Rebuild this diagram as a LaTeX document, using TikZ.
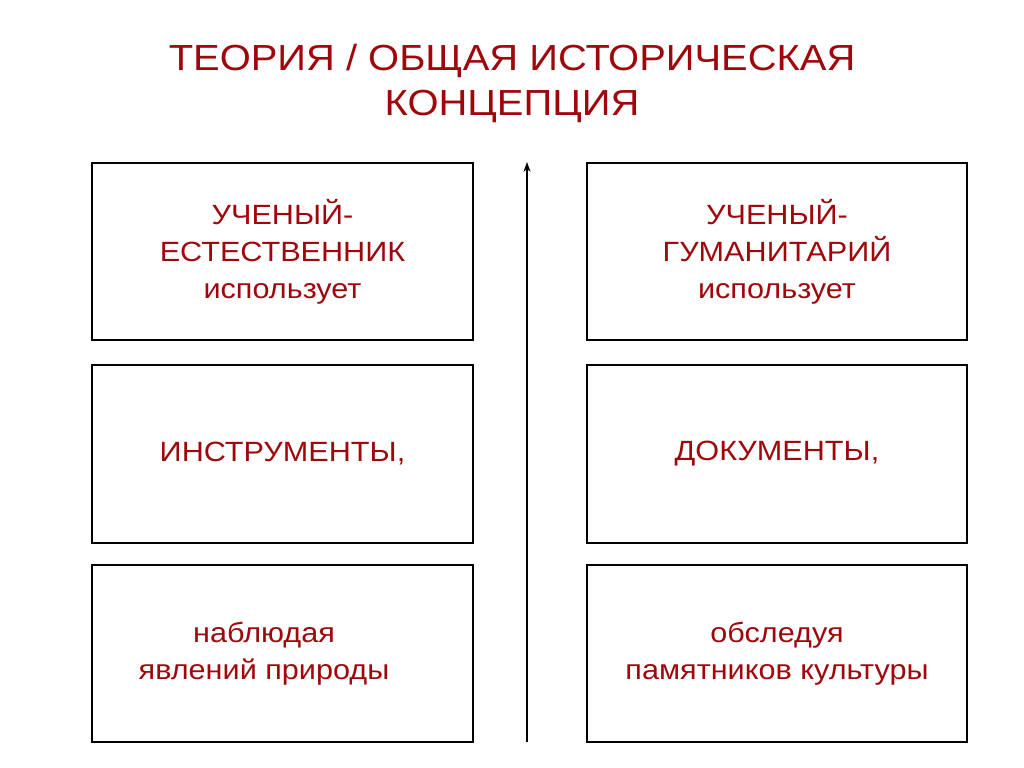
\documentclass[tikz,border=0pt]{standalone}
\usepackage{fontspec}
\setmainfont[FakeStretch=1.1]{Liberation Sans}
\usepackage{tikz}
\usetikzlibrary{arrows.meta}
\definecolor{darkred}{RGB}{158,8,12}

\begin{document}
\begin{tikzpicture}[x=0.025cm, y=-0.025cm,
		box/.style={rectangle, draw, line width=1.4pt, minimum width=9.5cm, minimum height=4.43cm,
			align=center, text=darkred, font=\fontsize{19.8}{26.2}\selectfont},
		heading/.style={align=center, text=darkred, font=\fontsize{25.8}{32}\selectfont}]
		\useasboundingbox (0,0) rectangle (1024,768);
		\node (title) at (512,83) [heading] {ТЕОРИЯ / ОБЩАЯ ИСТОРИЧЕСКАЯ\\КОНЦЕПЦИЯ};
		\node (n_1) at (282.5,251.5) [box] {УЧЕНЫЙ-\\ЕСТЕСТВЕННИК\\использует};
		\node (n_2) at (282.5,454) [box] {ИНСТРУМЕНТЫ,};
		\node (n_3) at (282.5,653.5) [box] {};
		\node (h_1) at (777,251.5) [box] {УЧЕНЫЙ-\\ГУМАНИТАРИЙ\\использует};
		\node (h_2) at (777,454) [box] {ДОКУМЕНТЫ,};
		\node (h_3) at (777,653.5) [box] {обследуя\\памятников культуры};
		\node (n_3text) at (264,653.5) [align=center, text=darkred, font=\fontsize{19.8}{26.2}\selectfont] {наблюдая\\явлений природы};
		\coordinate (axis_bot) at (527,742);
		\coordinate (axis_top) at (527,162);
		
		\draw [line width=1.4pt, -{Stealth[length=7pt,width=5pt]}] (axis_bot) -- (axis_top);
	\end{tikzpicture}
\end{document}
